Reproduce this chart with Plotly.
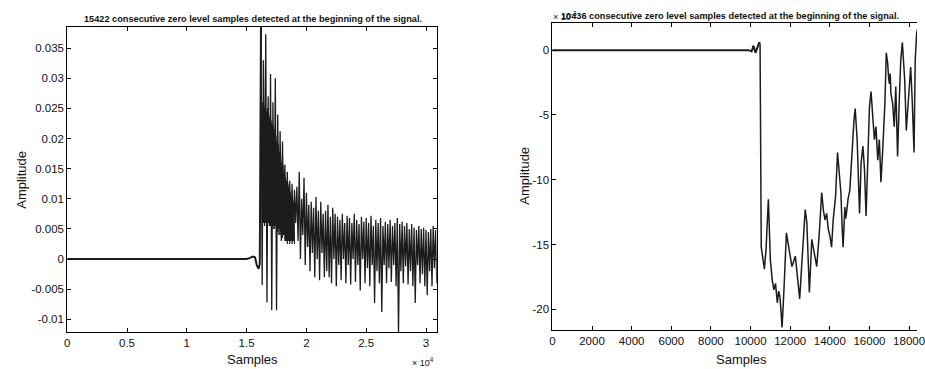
import plotly.graph_objects as go

W, H = 925, 369

# ---------------- left panel data ----------------
left_title = "15422 consecutive zero level samples detected at the beginning of the signal."
left_xtick_vals = [0, 5000, 10000, 15000, 20000, 25000, 30000]
left_xtick_text = ["0", "0.5", "1", "1.5", "2", "2.5", "3"]
left_ytick_vals = [-0.01, -0.005, 0, 0.005, 0.01, 0.015, 0.02, 0.025, 0.03, 0.035]
left_ytick_text = ["-0.01", "-0.005", "0", "0.005", "0.01", "0.015", "0.02", "0.025", "0.03", "0.035"]

left_flat_x = [0, 15000, 15300, 15500, 15700, 15850, 16000, 16100, 16200]
left_flat_y = [0.0, 0.0, 0.0002, 0.0004, 0.0003, -0.0010, -0.0016, -0.0008, 0.0385]

# sparse large swings (every 100 samples)
left_osc_start = 16200
left_osc_step = 100
left_osc_y = [
    0.0385, -0.0043, 0.033, 0.008, 0.0373, -0.0072, 0.027, 0.006, 0.0307, -0.0085,
    0.026, 0.005, 0.030, -0.0085, 0.024, 0.004, 0.0212, 0.003, 0.0195, 0.006,
    0.0157, 0.005, 0.0145, 0.0055, 0.013, 0.004, 0.0125, 0.003, 0.0115, 0.006,
    0.012, 0.003, 0.0145, 0.000, 0.010, 0.004, 0.0135, -0.001, 0.011, 0.002,
    0.009, -0.002, 0.0095, 0.001, 0.0085, -0.003, 0.0103, 0.000, 0.008, -0.0035,
    0.0095, 0.001, 0.0075, -0.003, 0.008, -0.002, 0.009, -0.003, 0.007, -0.004,
    0.0085, 0.000, 0.0075, -0.0045, 0.007, -0.001, 0.0065, -0.0035, 0.0075, 0.000,
    0.006, -0.004, 0.0072, -0.001, 0.0068, -0.0042, 0.006, 0.000, 0.0075, -0.0038,
    0.0065, -0.001, 0.0058, -0.0052, 0.007, 0.000, 0.0062, -0.004, 0.0068, -0.0015,
    0.006, -0.0045, 0.0072, -0.001, 0.0055, -0.0073, 0.0065, -0.002, 0.006, -0.004,
    0.0068, -0.0088, 0.0055, -0.001, 0.0062, -0.004, 0.0058, -0.0015, 0.0065, -0.0038,
    0.0055, -0.001, 0.006, -0.0045, 0.0068, -0.0125, 0.0058, -0.002, 0.0062, -0.004,
    0.0055, -0.0012, 0.006, -0.0042, 0.005, -0.002, 0.0058, -0.0045, 0.0052, -0.0073,
    0.0048, -0.001, 0.0055, -0.004, 0.005, -0.0025, 0.0052, -0.0045, 0.0048, -0.006,
    0.0045, -0.002, 0.005, -0.0045, 0.0055, -0.0015, 0.0048, -0.004,
]

# dense core of the burst (every 50 samples)
left_dense_start = 16250
left_dense_step = 50
left_dense_y = [
    0.025, 0.0065, 0.026, 0.006, 0.025, 0.0055, 0.0255, 0.006, 0.0245, 0.0055,
    0.025, 0.006, 0.024, 0.0055, 0.0235, 0.0055, 0.023, 0.005, 0.0225, 0.0055,
    0.022, 0.005, 0.0215, 0.0055, 0.0205, 0.005, 0.0195, 0.0045, 0.019, 0.005,
    0.0177, 0.004, 0.017, 0.0045, 0.016, 0.0035, 0.0155, 0.004, 0.0145, 0.003,
    0.0135, 0.003, 0.013, 0.0025, 0.0125, 0.003, 0.012, 0.0025, 0.0112, 0.003,
    0.0105, 0.0025, 0.010, 0.003, 0.0095, 0.0025,
]

# ---------------- right panel data (values in units of 1e-3) ----------------
right_title = "10436 consecutive zero level samples detected at the beginning of the signal."
right_xtick_vals = [0, 2000, 4000, 6000, 8000, 10000, 12000, 14000, 16000, 18000]
right_xtick_text = ["0", "2000", "4000", "6000", "8000", "10000", "12000", "14000", "16000", "18000"]
right_ytick_vals = [-20, -15, -10, -5, 0]
right_ytick_text = ["-20", "-15", "-10", "-5", "0"]

right_flat_x = [0, 9900, 10050, 10150, 10250, 10350, 10440, 10480]
right_flat_y = [0.0, 0.0, -0.1, 0.35, -0.2, 0.15, 0.6, 0.5]

right_x = [10480, 10500, 10540, 10700, 10780, 10900, 11000, 11100, 11180, 11260, 11350,
           11420, 11480, 11540, 11590, 11680, 11810, 11980, 12090, 12260, 12340, 12480,
           12590, 12760, 12840, 12970, 13090, 13170, 13340, 13470, 13590, 13680, 13760,
           13840, 13920, 14010, 14090, 14170, 14290, 14390, 14500, 14560, 14620, 14670,
           14760, 14800, 14840, 14880, 14920, 15010, 15090, 15220, 15280, 15380, 15500,
           15580, 15670, 15750, 15830, 15920, 16000, 16080, 16170, 16250, 16330, 16420,
           16500, 16580, 16670, 16780, 16850, 16920, 16970, 17010, 17050, 17080, 17170,
           17250, 17330, 17420, 17500, 17580, 17660, 17780, 17860, 17950, 18080, 18160,
           18250, 18310, 18380, 18450]
right_y = [0.5, -13.6, -15.2, -16.9, -15.4, -11.5, -16.2, -17.8, -18.5, -18.0, -19.5,
           -18.6, -19.0, -20.2, -21.4, -18.7, -14.1, -15.7, -16.7, -15.9, -17.2, -19.2,
           -16.4, -12.3, -13.3, -18.7, -14.6, -15.2, -16.7, -14.1, -11.0, -12.4, -13.1,
           -12.6, -13.8, -14.4, -15.2, -13.1, -11.3, -7.9, -10.0, -11.0, -13.6, -15.2,
           -12.1, -13.0, -12.6, -11.8, -11.5, -10.8, -8.5, -5.4, -4.5, -6.9, -12.6,
           -8.7, -7.4, -9.2, -12.8, -8.5, -4.4, -3.2, -5.4, -6.9, -5.9, -8.5,
           -6.9, -10.2, -7.7, -4.1, -0.2, -1.0, -2.2, -2.6, -1.8, -3.3, -4.1,
           -5.9, -2.8, -8.2, -4.1, -0.8, 0.6, -2.3, -6.2, -3.9, -1.3, -3.9,
           -7.9, -0.8, 1.3, 1.8]

# ---------------- layout helpers ----------------
def px_x(p):
    return p / W

def px_y(p):
    return 1 - p / H

FONT = "Liberation Sans, Arial, sans-serif"
INK = "#1c1c1c"

fig = go.Figure()

fig.add_trace(go.Scatter(x=left_flat_x, y=left_flat_y, mode="lines",
                         line=dict(color=INK, width=2), xaxis="x", yaxis="y",
                         showlegend=False, hoverinfo="skip"))
fig.add_trace(go.Scatter(x0=left_osc_start, dx=left_osc_step, y=left_osc_y, mode="lines",
                         line=dict(color=INK, width=1.3), xaxis="x", yaxis="y",
                         showlegend=False, hoverinfo="skip"))
fig.add_trace(go.Scatter(x0=left_dense_start, dx=left_dense_step, y=left_dense_y, mode="lines",
                         line=dict(color=INK, width=1.2), xaxis="x", yaxis="y",
                         showlegend=False, hoverinfo="skip"))
fig.add_trace(go.Scatter(x=right_flat_x, y=right_flat_y, mode="lines",
                         line=dict(color=INK, width=2), xaxis="x2", yaxis="y2",
                         showlegend=False, hoverinfo="skip"))
fig.add_trace(go.Scatter(x=right_x, y=right_y, mode="lines",
                         line=dict(color=INK, width=1.5), xaxis="x2", yaxis="y2",
                         showlegend=False, hoverinfo="skip"))

axis_common = dict(showline=True, linecolor="black", linewidth=1, ticks="inside",
                   ticklen=4, tickcolor="black", showgrid=False, zeroline=False,
                   ticklabeloverflow="allow",
                   tickfont=dict(family=FONT, size=11.5, color="#111"))

fig.update_layout(
    width=W, height=H,
    margin=dict(l=0, r=0, t=0, b=0),
    paper_bgcolor="white", plot_bgcolor="white",
    xaxis=dict(domain=[px_x(65), px_x(439)], range=[0, 30900], anchor="y",
               tickvals=left_xtick_vals, ticktext=left_xtick_text, mirror="allticks",
               **axis_common),
    yaxis=dict(domain=[px_y(332), px_y(27)], range=[-0.0121, 0.0385], anchor="x",
               tickvals=left_ytick_vals, ticktext=left_ytick_text, mirror="allticks",
               **axis_common),
    xaxis2=dict(domain=[px_x(556), 1.0], range=[0, 18400], anchor="y2",
                tickvals=right_xtick_vals, ticktext=right_xtick_text, mirror="allticks",
                **axis_common),
    yaxis2=dict(domain=[px_y(330), px_y(23)], range=[-21.6, 2.1], anchor="x2",
                tickvals=right_ytick_vals, ticktext=right_ytick_text,
                **axis_common),
)

ann = []
ann.append(dict(text="<b>" + left_title + "</b>", x=px_x(253), y=px_y(19), xanchor="center",
                yanchor="middle", font=dict(family=FONT, size=9.2, color="#111")))
ann.append(dict(text="<b>" + right_title + "</b>", x=px_x(563), y=px_y(16), xanchor="left",
                yanchor="middle", font=dict(family=FONT, size=9.2, color="#111")))
ann.append(dict(text="× 10<sup>-3</sup>", x=px_x(555), y=px_y(16), xanchor="left",
                yanchor="middle", font=dict(family=FONT, size=9, color="#111")))
ann.append(dict(text="× 10<sup>4</sup>", x=px_x(412), y=px_y(362), xanchor="left",
                yanchor="middle", font=dict(family=FONT, size=9, color="#111")))
ann.append(dict(text="Samples", x=px_x(252), y=px_y(359), xanchor="center",
                yanchor="middle", font=dict(family=FONT, size=13, color="#111")))
ann.append(dict(text="Samples", x=px_x(747), y=px_y(359), xanchor="center",
                yanchor="middle", font=dict(family=FONT, size=13, color="#111")))
ann.append(dict(text="Amplitude", x=px_x(18), y=px_y(180), xanchor="center",
                yanchor="middle", textangle=-90, font=dict(family=FONT, size=13, color="#111")))
ann.append(dict(text="Amplitude", x=px_x(528), y=px_y(176), xanchor="center",
                yanchor="middle", textangle=-90, font=dict(family=FONT, size=13, color="#111")))
for a in ann:
    a.update(xref="paper", yref="paper", showarrow=False)
fig.update_layout(annotations=ann)

fig.write_html("out.html",
               config={"displayModeBar": False},
               post_script="document.body.style.margin='0';document.body.style.overflow='hidden';")
